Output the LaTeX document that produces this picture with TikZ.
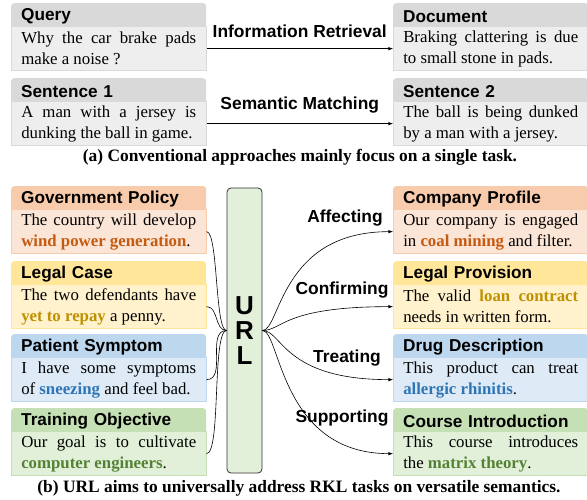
\documentclass[tikz,border=0pt]{standalone}
\usepackage{fontspec}
\setmainfont{Liberation Serif}
\setsansfont{Liberation Sans}
\definecolor{grayh}{HTML}{D9D9D9}
\definecolor{grayb}{HTML}{EEEEEE}
\definecolor{orgh}{HTML}{F8CBAD}
\definecolor{orgb}{HTML}{FBE5D6}
\definecolor{orgt}{HTML}{C55A11}
\definecolor{ylwh}{HTML}{FFE699}
\definecolor{ylwb}{HTML}{FFF2CC}
\definecolor{ylwt}{HTML}{BF9000}
\definecolor{bluh}{HTML}{BDD7EE}
\definecolor{blub}{HTML}{DEEBF7}
\definecolor{blut}{HTML}{2E75B6}
\definecolor{grnh}{HTML}{C5E0B4}
\definecolor{grnb}{HTML}{E2F0D9}
\definecolor{grnt}{HTML}{548235}
\newcommand{\hlword}[2]{\textbf{\textcolor{#1}{#2}}}
\tikzset{
  hdr/.style={anchor=north west, text width=175pt, inner xsep=10pt, minimum height=26pt,
    rounded corners=3pt, align=left, font=\sffamily\bfseries\fontsize{17.2}{20}\selectfont},
  txt/.style={anchor=north west, text width=175pt, inner xsep=10pt, minimum height=44pt,
    line width=0.5pt, align=justify, font=\fontsize{16.8}{21}\selectfont},
  lbl/.style={font=\sffamily\bfseries\fontsize{17.4}{20}\selectfont},
  captext/.style={font=\bfseries\fontsize{17.4}{20}\selectfont},
  arr/.style={->, >=latex, line width=0.6pt},
  lnk/.style={line width=0.6pt},
}
\begin{document}
\begin{tikzpicture}[x=1pt, y=-1pt]
  \useasboundingbox (0,0) rectangle (587,500);

  \node[hdr, fill=grayh] (query) at (11,3) {Query};
  \node[txt, fill=grayb, draw=grayh] (queryt) at ([yshift=3pt]query.south west) {Why the car brake pads\linebreak make a noise ?};
  \node[hdr, fill=grayh] (doc) at (393,3) {Document};
  \node[txt, fill=grayb, draw=grayh] (doct) at ([yshift=3pt]doc.south west) {Braking clattering is due\linebreak to small stone in pads.};
  \node[hdr, fill=grayh] (sen1) at (11,78) {Sentence 1};
  \node[txt, fill=grayb, draw=grayh] (sen1t) at ([yshift=3pt]sen1.south west) {A man with a jersey is\linebreak dunking the ball in game.};
  \node[hdr, fill=grayh] (sen2) at (393,78) {Sentence 2};
  \node[txt, fill=grayb, draw=grayh] (sen2t) at ([yshift=3pt]sen2.south west) {The ball is being dunked\linebreak by a man with a jersey.};

  \draw[arr] (queryt) -- node[lbl, above=7pt] (irl) {Information Retrieval} (doct);
  \draw[arr] (sen1t) -- node[lbl, above=7pt] (sml) {Semantic Matching} (sen2t);
  \node[captext] (capa) at (300,157) {(a) Conventional approaches mainly focus on a single task.};

  \node[hdr, fill=orgh] (gov) at (11,186) {Government Policy};
  \node[txt, fill=orgb, draw=orgh] (govt) at ([yshift=3pt]gov.south west) {The country will develop\linebreak \hlword{orgt}{wind power generation}.};
  \node[hdr, fill=ylwh] (case) at (11,261) {Legal Case};
  \node[txt, fill=ylwb, draw=ylwh] (caset) at ([yshift=3pt]case.south west) {The two defendants have\linebreak \hlword{ylwt}{yet to repay} a penny.};
  \node[hdr, fill=bluh] (pat) at (11,334) {Patient Symptom};
  \node[txt, fill=blub, draw=bluh] (patt) at ([yshift=3pt]pat.south west) {I have some symptoms\linebreak of \hlword{blut}{sneezing} and feel bad.};
  \node[hdr, fill=grnh] (train) at (11,408) {Training Objective};
  \node[txt, fill=grnb, draw=grnh] (traint) at ([yshift=3pt]train.south west) {Our goal is to cultivate\linebreak \hlword{grnt}{computer engineers}.};

  \node[hdr, fill=orgh] (comp) at (393,186) {Company Profile};
  \node[txt, fill=orgb, draw=orgh] (compt) at ([yshift=3pt]comp.south west) {Our company is engaged\linebreak in \hlword{orgt}{coal mining} and filter.};
  \node[hdr, fill=ylwh] (prov) at (393,261) {Legal Provision};
  \node[txt, fill=ylwb, draw=ylwh] (provt) at ([yshift=3pt]prov.south west) {The valid \hlword{ylwt}{loan contract}\linebreak needs in written form.};
  \node[hdr, fill=bluh] (drug) at (393,334) {Drug Description};
  \node[txt, fill=blub, draw=bluh] (drugt) at ([yshift=3pt]drug.south west) {This product can treat\linebreak \hlword{blut}{allergic rhinitis}.};
  \node[hdr, fill=grnh] (course) at (393,408) {Course Introduction};
  \node[txt, fill=grnb, draw=grnh] (courset) at ([yshift=3pt]course.south west) {This course introduces\linebreak the \hlword{grnt}{matrix theory}.};

  \node[draw=black!80, fill=grnb, rounded corners=4pt, line width=0.8pt, minimum width=35pt, minimum height=285pt,
    align=center, font=\sffamily\bfseries\fontsize{26}{25}\selectfont] (url) at (244.5,330.5) {U\\R\\L};

  \draw[lnk] (govt.east) to[out=0, in=180, looseness=0.3] (url.west);
  \draw[lnk] (caset.east) to[out=0, in=180] (url.west);
  \draw[lnk] (patt.east) to[out=0, in=180] (url.west);
  \draw[lnk] (traint.east) to[out=0, in=180, looseness=0.3] (url.west);

  \draw[arr] (url.east) .. controls +(18,0) and +(-113,0) .. (compt.west);
  \draw[arr] (url.east) .. controls +(20,0) and +(-110,0) .. (provt.west);
  \draw[arr] (url.east) .. controls +(20,0) and +(-110,0) .. (drugt.west);
  \draw[arr] (url.east) .. controls +(18,0) and +(-113,0) .. (courset.west);

  \node[lbl] (aff) at (345,218) {Affecting};
  \node[lbl] (conf) at (342,290) {Confirming};
  \node[lbl] (treat) at (347,358) {Treating};
  \node[lbl] (supp) at (342,418) {Supporting};

  \node[captext] (capb) at (299,488) {(b) URL aims to universally address RKL tasks on versatile semantics.};
\end{tikzpicture}
\end{document}
